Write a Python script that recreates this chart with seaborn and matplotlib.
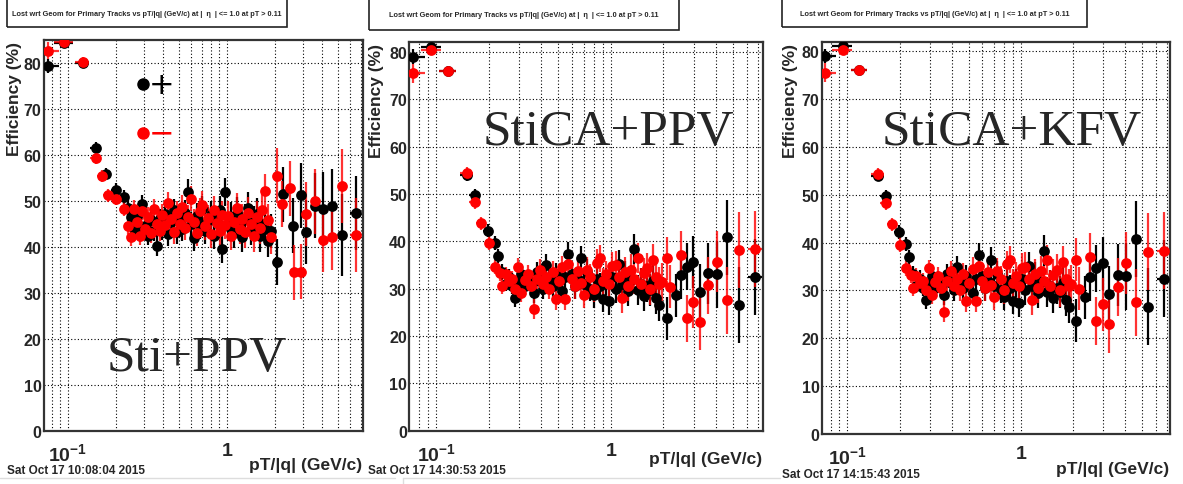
import numpy as np
import pandas as pd
import matplotlib
matplotlib.use("Agg")
import matplotlib.pyplot as plt
import seaborn as sns
from matplotlib.ticker import FixedLocator, MultipleLocator, NullFormatter
from matplotlib.patches import Rectangle

# shared pT bin centres of the dense region (GeV/c), log spaced
pt_mid = [0.24, 0.25, 0.261, 0.272, 0.283, 0.295, 0.308, 0.321, 0.334, 0.348,
          0.363, 0.378, 0.394, 0.411, 0.428, 0.446, 0.465, 0.485, 0.506, 0.527,
          0.549, 0.572, 0.597, 0.622, 0.648, 0.675, 0.704, 0.734, 0.765, 0.797,
          0.831, 0.866, 0.902, 0.94, 0.98, 1.022, 1.065, 1.11, 1.157, 1.206,
          1.256, 1.31, 1.365, 1.423, 1.483, 1.545, 1.611, 1.679, 1.75, 1.823,
          1.9]

# ---- Sti+PPV ----
sti_mid_err = [1.8, 1.8, 1.9, 1.9, 2.0, 2.0, 2.1, 2.1, 2.2, 2.2,
               2.3, 2.3, 2.4, 2.4, 2.5, 2.5, 2.5, 2.6, 2.6, 2.6,
               2.7, 2.7, 2.7, 2.8, 2.8, 2.8, 2.9, 2.9, 2.9, 3.0,
               3.0, 3.0, 3.1, 3.1, 3.1, 3.2, 3.2, 3.2, 3.3, 3.3,
               3.3, 3.4, 3.4, 3.4, 3.5, 3.5, 3.5, 3.6, 3.6, 3.6,
               3.7]

sti_pos_pt = [0.075, 0.095, 0.124, 0.15, 0.175, 0.2, 0.225] + pt_mid + \
             [2.06, 2.27, 2.62, 2.93, 3.16, 3.6, 4.02, 4.57, 5.34, 6.48]
sti_pos_eff = [79.3, 84.3, 80.0, 61.6, 55.8, 52.5, 50.8,
               48.5, 46.5, 44.0, 46.8, 43.0, 49.3, 44.5, 42.5, 45.8, 43.5,
               40.3, 46.0, 44.0, 47.2, 42.8, 45.5, 48.0, 43.2, 46.2, 44.0,
               47.5, 52.0, 45.0, 42.0, 46.8, 44.5, 48.2, 43.5, 45.8, 47.0,
               42.5, 45.2, 48.0, 39.6, 52.0, 44.5, 46.5, 43.0, 47.5, 44.8,
               42.2, 46.0, 48.5, 43.8, 45.5, 47.2, 42.5, 45.0, 44.0, 41.4,
               43.5,
               36.8, 51.5, 44.6, 51.2, 43.3, 49.0, 48.3, 49.0, 42.6, 47.4]
sti_pos_err = [1.5, 1.0, 1.0, 1.2, 1.3, 1.4, 1.5] + sti_mid_err + \
              [5.0, 6.0, 6.0, 7.0, 7.0, 7.0, 8.0, 8.0, 9.0, 8.0]
sti_pos_hw = [0.05, 0.05, 0.1, 0.1, 0.1, 0.15, 0.15, 0.2, 0.3, 0.5]

sti_neg_pt = [0.075, 0.095, 0.124, 0.15, 0.165, 0.18, 0.2, 0.225] + pt_mid + \
             [2.06, 2.22, 2.5, 2.65, 2.93, 3.16, 3.6, 4.02, 4.57, 5.34, 6.48]
sti_neg_eff = [82.7, 84.5, 80.2, 59.3, 55.5, 51.2, 50.5, 48.3,
               44.6, 42.1, 48.3, 45.5, 42.5, 47.8, 44.0, 46.5, 43.0, 48.2,
               45.0, 43.5, 47.0, 44.8, 49.5, 46.0, 43.2, 47.5, 45.0, 48.8,
               44.2, 46.5, 50.5, 45.5, 43.0, 47.8, 49.2, 44.5, 46.2, 42.8,
               48.0, 45.2, 43.5, 47.0, 44.8, 46.8, 42.5, 45.5, 48.5, 44.0,
               46.0, 43.2, 47.5, 45.0, 42.5, 46.5, 44.2, 48.0, 52.2, 45.8,
               42.2,
               55.5, 49.3, 52.8, 34.5, 34.6, 47.2, 49.9, 41.5, 42.1, 53.3, 42.6]
sti_neg_err = [1.8, 1.0, 1.0, 1.2, 1.3, 1.4, 1.4, 1.5] + sti_mid_err + \
              [6.0, 5.0, 6.0, 6.0, 6.0, 7.0, 7.0, 7.0, 7.0, 8.0, 8.0]
sti_neg_hw = [0.05, 0.05, 0.05, 0.1, 0.1, 0.1, 0.15, 0.15, 0.2, 0.3, 0.5]

# ---- StiCA+PPV (StiCA+KFV reads the same) ----
ca_mid_err = [1.6, 1.6, 1.7, 1.7, 1.8, 1.8, 1.9, 1.9, 2.0, 2.0,
              2.1, 2.1, 2.2, 2.2, 2.3, 2.3, 2.3, 2.4, 2.4, 2.4,
              2.5, 2.5, 2.5, 2.6, 2.6, 2.6, 2.7, 2.7, 2.7, 2.8,
              2.8, 2.8, 2.9, 2.9, 2.9, 3.0, 3.0, 3.0, 3.1, 3.1,
              3.1, 3.2, 3.2, 3.2, 3.3, 3.3, 3.3, 3.4, 3.4, 3.4,
              3.5]

ca_pos_pt = [0.074, 0.094, 0.117, 0.15, 0.166, 0.199, 0.218, 0.227] + pt_mid + \
            [2.09, 2.36, 2.52, 2.73, 2.97, 3.24, 3.62, 4.05, 4.62, 5.45, 6.7]
ca_pos_eff = [79.0, 81.0, 76.0, 54.0, 49.7, 42.2, 39.7, 36.9,
              33.5, 31.0, 32.5, 30.5, 28.0, 31.5, 33.0, 30.5, 32.0, 31.0,
              29.1, 33.5, 31.5, 30.0, 35.0, 32.0, 30.5, 33.0, 31.5, 29.5,
              32.5, 37.4, 33.0, 30.5, 32.0, 36.4, 31.0, 33.5, 30.0, 28.7,
              32.0, 30.5, 27.9, 31.5, 27.3, 32.5, 30.0, 35.1, 31.0, 32.8,
              29.5, 31.8, 38.3, 29.7, 31.0, 28.5, 30.5, 29.7, 31.5, 28.0,
              26.6,
              23.7, 28.6, 32.8, 34.6, 35.7, 29.2, 33.2, 33.0, 40.8, 26.6, 32.5]
ca_pos_err = [1.5, 1.0, 1.0, 1.2, 1.3, 1.4, 1.5, 1.5] + ca_mid_err + \
             [4.5, 4.5, 5.0, 5.0, 5.5, 6.0, 6.5, 7.0, 8.0, 8.0, 8.0]
ca_pos_hw = [0.05, 0.05, 0.05, 0.1, 0.1, 0.1, 0.15, 0.15, 0.2, 0.3, 0.6]

ca_neg_pt = [0.074, 0.094, 0.117, 0.15, 0.166, 0.181, 0.202, 0.218, 0.232] + pt_mid + \
            [1.96, 2.09, 2.18, 2.52, 2.72, 2.97, 3.24, 3.62, 4.05, 4.62, 5.45, 6.7]
ca_neg_eff = [75.5, 80.3, 76.0, 54.4, 48.2, 43.8, 39.6, 34.6, 33.2,
              30.5, 33.0, 31.5, 32.0, 30.0, 34.6, 29.1, 31.8, 33.0, 30.5,
              25.6, 32.0, 34.0, 31.0, 32.5, 30.0, 33.5, 27.9, 31.5, 34.5,
              27.9, 35.1, 32.0, 30.5, 33.8, 31.2, 28.6, 34.0, 32.5, 30.0,
              35.5, 36.4, 31.5, 33.0, 31.0, 34.8, 35.0, 32.5, 28.0, 33.5,
              30.5, 34.0, 32.0, 36.4, 31.0, 33.2, 34.3, 30.0, 36.0, 32.5,
              31.0,
              31.3, 36.4, 30.4, 37.1, 23.7, 27.1, 23.0, 30.7, 35.7, 27.5, 38.1, 38.3]
ca_neg_err = [2.0, 1.0, 1.0, 1.2, 1.3, 1.4, 1.5, 1.5, 1.6] + ca_mid_err + \
             [4.0, 4.5, 4.5, 5.0, 5.0, 5.5, 6.0, 6.0, 6.5, 7.0, 8.0, 8.0]
ca_neg_hw = [0.05, 0.05, 0.05, 0.05, 0.1, 0.1, 0.1, 0.15, 0.15, 0.2, 0.3, 0.6]

W, H = 1183, 485


def make_df(pt, eff, err, hw):
    # low/mid bins are 0.025 GeV/c wide, wide bins at high pT carry their own half-width
    xerr = [0.0125] * (len(pt) - len(hw)) + hw
    return pd.DataFrame({"pt": pt, "eff": eff, "err": err, "xerr": xerr})


def fx(x):
    return x / W


def fy(y):
    return 1 - y / H


sns.set_style("white")
plt.rcParams['font.family'] = ['Liberation Sans', 'DejaVu Sans']
plt.rcParams['mathtext.fontset'] = 'custom'
plt.rcParams['mathtext.rm'] = 'Liberation Sans'
plt.rcParams['mathtext.bf'] = 'Liberation Sans:bold'

fig = plt.figure(figsize=(W / 100, H / 100), dpi=100)

title = "Lost wrt Geom for Primary Tracks vs pT/|q| (GeV/c) at |  \u03b7  | <= 1.0 at pT > 0.11"
minor_x = [0.08, 0.09, 0.2, 0.3, 0.4, 0.5, 0.6, 0.7, 0.8, 0.9, 2, 3, 4, 5, 6, 7]

panels = [
    dict(box=(43.7, 363.3, 41, 432), xlim=(0.0706, 7.23), ylim=(0, 85),
         pos=make_df(sti_pos_pt, sti_pos_eff, sti_pos_err, sti_pos_hw),
         neg=make_df(sti_neg_pt, sti_neg_eff, sti_neg_err, sti_neg_hw),
         label="Sti+PPV", label_xy=(107, 371), ylab_x=15,
         date="Sat Oct 17 10:08:04 2015", date_xy=(7, 471), xlab_y=466,
         tbox=(7, 287, 28)),
    dict(box=(409, 762.7, 43.3, 431.7), xlim=(0.070, 7.41), ylim=(0, 82),
         pos=make_df(ca_pos_pt, ca_pos_eff, ca_pos_err, ca_pos_hw),
         neg=make_df(ca_neg_pt, ca_neg_eff, ca_neg_err, ca_neg_hw),
         label="StiCA+PPV", label_xy=(483, 145), ylab_x=376,
         date="Sat Oct 17 14:30:53 2015", date_xy=(368, 471), xlab_y=460,
         tbox=(369, 679, 31)),
    dict(box=(821.7, 1170, 42.7, 435), xlim=(0.0711, 7.26), ylim=(0, 82),
         pos=make_df(ca_pos_pt, ca_pos_eff, ca_pos_err, ca_pos_hw),
         neg=make_df(ca_neg_pt, ca_neg_eff, ca_neg_err, ca_neg_hw),
         label="StiCA+KFV", label_xy=(882, 145), ylab_x=790,
         date="Sat Oct 17 14:15:43 2015", date_xy=(782, 475), xlab_y=470,
         tbox=(782, 1087, 28)),
]

for p in panels:
    l, r, t, b = p["box"]
    ax = fig.add_axes([fx(l), fy(b), (r - l) / W, (b - t) / H])
    ax.set_xscale("log")

    for df, col, ecol, ea in [(p["pos"], "black", "black", 1.0),
                              (p["neg"], "#ff0000", "#ff0000", 0.8)]:
        ax.errorbar(df["pt"], df["eff"], yerr=df["err"], xerr=df["xerr"], fmt="none",
                    ecolor=ecol, elinewidth=1.6, capsize=0, alpha=ea, zorder=2)
        sns.scatterplot(data=df, x="pt", y="eff", color=col, s=60, linewidth=0,
                        ax=ax, zorder=3)

    ax.set_xlim(*p["xlim"])
    ax.set_ylim(*p["ylim"])
    ax.set_xlabel("")
    ax.set_ylabel("")
    ax.xaxis.set_major_locator(FixedLocator([0.1, 1]))
    ax.xaxis.set_minor_locator(FixedLocator(minor_x))
    ax.xaxis.set_minor_formatter(NullFormatter())
    ax.set_xticklabels([r"$\mathbf{10^{-1}}$", r"$\mathbf{1}$"])
    ax.yaxis.set_major_locator(MultipleLocator(10))
    ax.yaxis.set_minor_locator(MultipleLocator(2))
    ax.tick_params(axis="x", which="major", direction="in", length=11, width=1,
                   labelsize=14, pad=8)
    ax.tick_params(axis="x", which="minor", direction="in", length=7, width=1)
    ax.tick_params(axis="y", which="major", direction="in", length=8, width=1,
                   labelsize=11.5, pad=1.5)
    ax.tick_params(axis="y", which="minor", direction="in", length=4.5, width=1)
    for lab in ax.get_yticklabels():
        lab.set_fontweight("bold")
    ax.grid(axis="x", which="both", color="black", linestyle=(0, (1, 2)), linewidth=0.8)
    ax.grid(axis="y", which="major", color="black", linestyle=(0, (1, 2)), linewidth=0.8)
    for s in ax.spines.values():
        s.set_color("#333333")
        s.set_linewidth(1.6)

    # axis titles, ROOT style
    fig.text(fx(p["ylab_x"]), fy(t + 1), "Efficiency (%)", rotation=90, ha="center",
             va="top", fontsize=12.5, fontweight="bold")
    fig.text(fx(r - 1), fy(p["xlab_y"]), "pT/|q| (GeV/c)", ha="right", va="center",
             fontsize=12.5, fontweight="bold")
    fig.text(fx(p["date_xy"][0]), fy(p["date_xy"][1]), p["date"], ha="left",
             va="center", fontsize=8.5, fontweight="bold")

    # title box
    x0, x1, yb = p["tbox"]
    fig.add_artist(Rectangle((fx(x0), fy(yb)), (x1 - x0) / W, (yb + 10) / H,
                             transform=fig.transFigure, fill=False, lw=1.2, ec="#222222"))
    fig.text(fx((x0 + x1) / 2), fy(yb / 2), title, ha="center", va="center",
             fontsize=5.3, fontweight="bold")

    fig.text(fx(p["label_xy"][0]), fy(p["label_xy"][1]), p["label"], ha="left",
             va="baseline", fontsize=37, family=["Liberation Serif"])

# legend drawn by hand in the first panel
fig.add_artist(plt.Line2D([fx(143)], [fy(85)], marker="o", markersize=8, color="black",
                          linestyle="none", transform=fig.transFigure))
fig.add_artist(plt.Line2D([fx(143)], [fy(134)], marker="o", markersize=8, color="#ff0000",
                          linestyle="none", transform=fig.transFigure))
fig.text(fx(162), fy(85), "+", ha="center", va="center", fontsize=22, color="black",
         family=["DejaVu Sans"])
fig.text(fx(162), fy(134), "\u2212", ha="center", va="center", fontsize=22, color="#ff0000",
         family=["DejaVu Sans"])

# faint screenshot edges at the bottom
fig.add_artist(plt.Line2D([0, fx(395)], [fy(479), fy(479)], color="#dddddd", lw=1,
                          transform=fig.transFigure))
fig.add_artist(plt.Line2D([fx(403), fx(780)], [fy(479), fy(479)], color="#dddddd", lw=1,
                          transform=fig.transFigure))
fig.add_artist(plt.Line2D([fx(403), fx(403)], [fy(479), 0], color="#dddddd", lw=1,
                          transform=fig.transFigure))

fig.savefig("out.png", dpi=100)
